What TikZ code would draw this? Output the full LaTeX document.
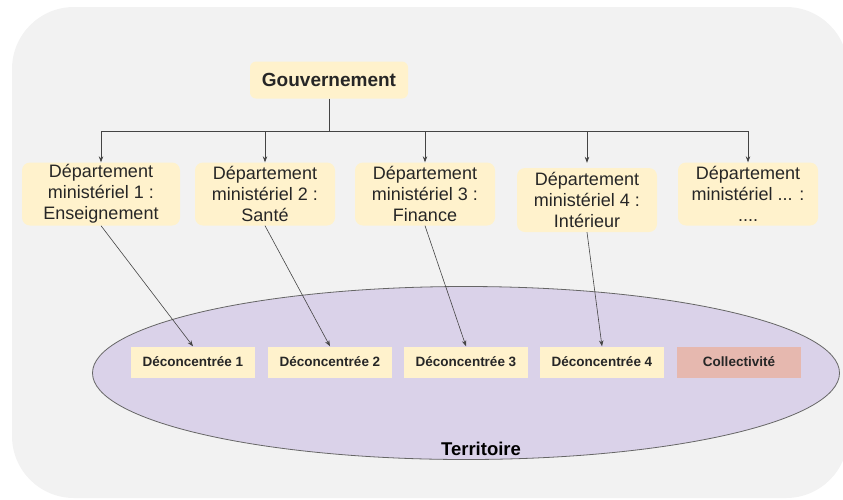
\documentclass[tikz,border=0pt]{standalone}
\usepackage{fontspec}
\setmainfont{Liberation Sans}
\usetikzlibrary{arrows.meta,calc,shapes.geometric}
\definecolor{fondgris}{RGB}{242,242,242}
\definecolor{jaune}{RGB}{255,242,204}
\definecolor{rose}{RGB}{230,184,175}
\definecolor{mauve}{RGB}{218,210,233}
\definecolor{trait}{RGB}{68,68,68}
\tikzset{
  dept/.style={fill=jaune, rounded corners=8pt, align=center, inner sep=0pt,
    minimum width=140pt, minimum height=63pt, text=black!85,
    font=\fontsize{18}{21}\selectfont},
  deconc/.style={fill=jaune, inner sep=0pt, minimum width=124pt, minimum height=31pt,
    font=\fontsize{13.5}{15}\selectfont\bfseries, text=black!85},
  fleche/.style={draw=trait, line width=0.7pt, -{Stealth[length=6pt,width=4.5pt]}},
}

\begin{document}
\begin{tikzpicture}[x=1pt, y=-1pt]
		%%%%% START %%%%%
		
		\useasboundingbox (0, 0) rectangle (843, 499);
		\fill[fondgris, rounded corners=62pt] (12, 7) rectangle (848, 498);
		
		\node[draw=black!60, fill=mauve, ellipse, line width=0.8pt, inner sep=0pt,
		  minimum width=747pt, minimum height=173pt] (terr) at (466, 373) {};
		\node[font=\fontsize{18.5}{20}\selectfont\bfseries] (terrlab) at (481, 449) {Territoire};
		
		\node[fill=jaune, rounded corners=6pt, minimum width=158pt, minimum height=37pt,
		  inner sep=0pt, font=\fontsize{19}{21}\selectfont\bfseries, text=black!85] (gov) at (329, 80) {Gouvernement};
		
		\node[dept, minimum width=158pt] (d1) at (101, 194) {Département\\ministériel 1 :\\Enseignement};
		\node[dept] (d2) at (265, 194) {Département\\ministériel 2 :\\Santé};
		\node[dept] (d3) at (425, 194) {Département\\ministériel 3 :\\Finance};
		\node[dept, minimum height=64pt] (d4) at (587, 200) {Département\\ministériel 4 :\\Intérieur};
		\node[dept] (d5) at (748, 194) {Département\\ministériel ... :\\....};
		
		\coordinate (bus) at (329, 131);
		\draw[draw=trait, line width=1pt] (gov.south) -- (bus);
		\draw[fleche] (bus) -| (d1.north);
		\draw[fleche] (bus) -| (d2.north);
		\draw[fleche] (bus) -| (d3.north);
		\draw[fleche] (bus) -| ($(d4.north)+(0,-5)$);
		\draw[fleche] (bus) -| (d5.north);
		
		\node[deconc] (dc1) at (193, 362) {Déconcentrée 1};
		\node[deconc] (dc2) at (330, 362) {Déconcentrée 2};
		\node[deconc] (dc3) at (466, 362) {Déconcentrée 3};
		\node[deconc] (dc4) at (602, 362) {Déconcentrée 4};
		\node[deconc, fill=rose] (coll) at (739, 362) {Collectivité};
		
		\draw[fleche, line width=0.6pt] (d1.south) -- (dc1.north);
		\draw[fleche, line width=0.6pt] (d2.south) -- (dc2.north);
		\draw[fleche, line width=0.6pt] (d3.south) -- (dc3.north);
		\draw[fleche, line width=0.6pt] (d4.south) -- (dc4.north);
		
		%%%%% END %%%%%
	\end{tikzpicture}
\end{document}
